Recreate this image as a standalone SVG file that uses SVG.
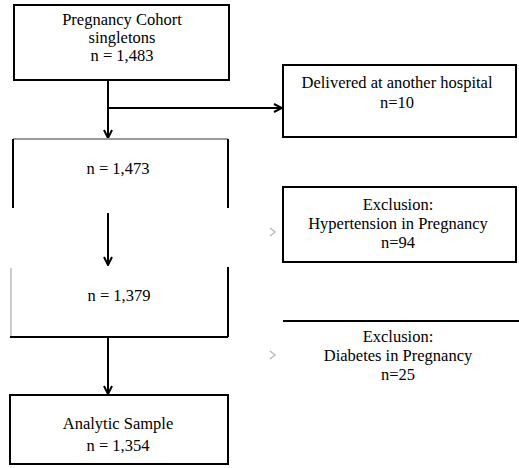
<svg xmlns="http://www.w3.org/2000/svg" width="519" height="468" viewBox="0 0 519 468">
<defs>
<marker id="ah" viewBox="0 0 10 10" refX="9" refY="5" markerWidth="5" markerHeight="5" orient="auto" markerUnits="strokeWidth">
<path d="M1,1 L9,5 L1,9" fill="none" stroke="#000" stroke-width="2"/>
</marker>
</defs>
<style>
text{font-family:"Liberation Serif","Times New Roman",serif;font-size:16.5px;fill:#000;text-anchor:middle}
.b{fill:#fff;stroke:#000;stroke-width:2}
.l{fill:none;stroke:#000;stroke-width:2}
.g{fill:none;stroke:#999;stroke-width:2}
.f{fill:none;stroke:#bbb;stroke-width:1.5}
</style>
<rect width="519" height="468" fill="#fff"/>
<g id="connectors">
<path class="l" d="M108,80 V138" marker-end="url(#ah)"/>
<path class="l" d="M108,108 H282" marker-end="url(#ah)"/>
<path class="l" d="M108,213 V265" marker-end="url(#ah)"/>
<path class="l" d="M108,337 V394" marker-end="url(#ah)"/>
<path class="f" d="M270,228 L275,232 L270,236"/>
<path class="f" d="M270,351 L275,355 L270,359"/>
</g>
<g id="cohort">
<rect class="b" x="14" y="5" width="215" height="75"/>
<text x="122" y="25">Pregnancy Cohort</text>
<text x="122" y="43">singletons</text>
<text x="122" y="61">n = 1,483</text>
</g>
<g id="delivered">
<rect class="b" x="283" y="65" width="233" height="72"/>
<text x="397" y="88">Delivered at another hospital</text>
<text x="397" y="108">n=10</text>
</g>
<g id="n1473">
<path class="g" d="M13,139 H228"/>
<path class="l" d="M13,139 V208 M228,139 V208"/>
<text x="118" y="174">n = 1,473</text>
</g>
<g id="hypertension">
<rect class="b" x="283" y="187" width="233" height="75"/>
<text x="398" y="210">Exclusion:</text>
<text x="398" y="229">Hypertension in Pregnancy</text>
<text x="398" y="248">n=94</text>
</g>
<g id="n1379">
<path class="f" d="M11,268 V337"/>
<path class="l" d="M228,267 V337 M10,337 H228"/>
<text x="119" y="301">n = 1,379</text>
</g>
<g id="diabetes">
<path class="l" d="M283,321 H519"/>
<text x="398" y="342">Exclusion:</text>
<text x="398" y="361">Diabetes in Pregnancy</text>
<text x="398" y="380">n=25</text>
</g>
<g id="analytic">
<rect class="b" x="10" y="395" width="218" height="69"/>
<text x="118" y="429">Analytic Sample</text>
<text x="118" y="451">n = 1,354</text>
</g>
</svg>
